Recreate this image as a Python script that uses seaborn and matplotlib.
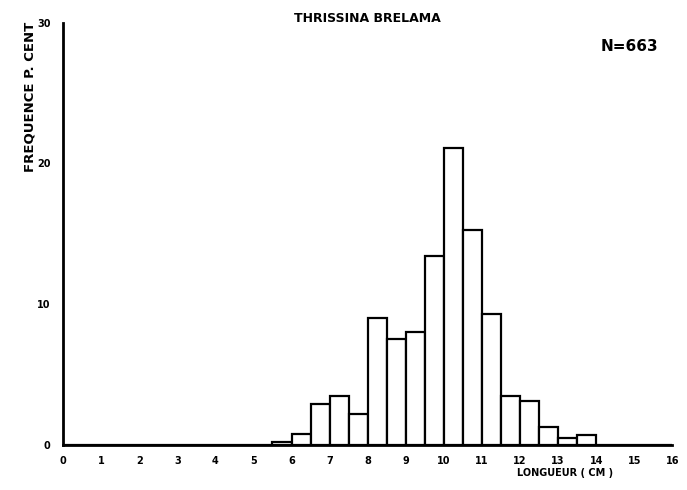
import matplotlib
matplotlib.use("Agg")
import matplotlib.pyplot as plt
from matplotlib.ticker import MultipleLocator
import numpy as np
import seaborn as sns

# Data: length classes (cm, 0.5 cm wide) and frequency (%)
bin_left = [5.5, 6.0, 6.5, 7.0, 7.5, 8.0, 8.5, 9.0, 9.5, 10.0, 10.5,
            11.0, 11.5, 12.0, 12.5, 13.0, 13.5]
frequency = [0.2, 0.8, 2.9, 3.5, 2.2, 9.0, 7.5, 8.0, 13.4, 21.1, 15.3,
             9.3, 3.5, 3.1, 1.3, 0.5, 0.7]
x_ticks = list(range(0, 17))
y_ticks = [0, 10, 20, 30]
title = "THRISSINA BRELAMA"
n_label = "N=663"
x_label = "LONGUEUR ( CM )"
y_label = "FREQUENCE P. CENT"

sns.set_theme(style="white")
plt.rcParams['font.family'] = ['DejaVu Sans']
plt.rcParams['text.color'] = 'black'
plt.rcParams['xtick.color'] = 'black'
plt.rcParams['ytick.color'] = 'black'

fig = plt.figure(figsize=(6.87, 4.90), dpi=100)
ax = fig.add_axes([0.0917, 0.092, 0.887, 0.862])

edges = list(np.arange(0, 16.01, 0.5))
centers = [b + 0.25 for b in bin_left]
sns.histplot(x=centers, weights=frequency, bins=edges, ax=ax,
             stat="count", color="white", edgecolor="black",
             linewidth=1.6, alpha=1)

ax.set_xlim(0, 16)
ax.set_ylim(0, 30)
ax.set_xticks(x_ticks)
ax.set_xticklabels([str(t) for t in x_ticks])
ax.set_yticks(y_ticks)
ax.set_yticklabels([str(t) for t in y_ticks])
ax.xaxis.set_minor_locator(MultipleLocator(0.5))
ax.yaxis.set_minor_locator(MultipleLocator(5))
ax.tick_params(axis="both", which="major", direction="inout", length=4,
               width=1.5, color="black", labelcolor="black", labelsize=7)
ax.tick_params(axis="both", which="minor", direction="inout", length=3,
               width=1.2, color="black")
ax.tick_params(axis="x", pad=6)
ax.tick_params(axis="y", pad=7)
for lbl in ax.get_xticklabels() + ax.get_yticklabels():
    lbl.set_fontweight("bold")

for s in ["top", "right"]:
    ax.spines[s].set_visible(False)
for s in ["left", "bottom"]:
    ax.spines[s].set_color("black")
    ax.spines[s].set_linewidth(2)

ax.set_xlabel("")
ax.set_ylabel("")
fig.text(0.535, 0.963, title, ha="center", va="center", fontsize=9,
         fontweight="bold", color="black")
fig.text(0.958, 0.906, n_label, ha="right", va="center", fontsize=11,
         fontweight="bold", color="black")
fig.text(0.892, 0.034, x_label, ha="right", va="center", fontsize=7,
         fontweight="bold", color="black")
fig.text(0.044, 0.956, y_label, ha="center", va="top", rotation=90,
         fontsize=9.5, fontweight="bold", color="black")

fig.savefig("out.png", dpi=100, facecolor="white")
